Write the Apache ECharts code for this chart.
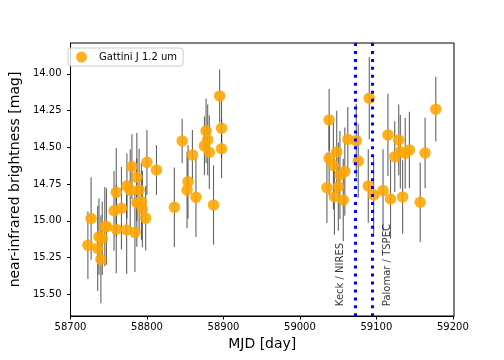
<!DOCTYPE html>
<html><head><meta charset="utf-8">
<script src="https://cdn.jsdelivr.net/npm/echarts@6/dist/echarts.min.js"></script>
<style>html,body{margin:0;padding:0;background:#fff}#c{width:504px;height:360px}</style>
</head><body><div id="c"></div>
<script>
const mjd = [58722.7,58726.9,58735.5,58737.2,58739.7,58741.5,58744.8,58747.0,58756.9,58759.8,58759.8,58766.6,58773.4,58773.7,58778.1,58780.3,58784.2,58786.7,58786.7,58789.7,58792.7,58794.0,58798.3,58799.9,58812.4,58835.8,58846.0,58853.7,58852.4,58859.4,58864.0,58877.3,58879.4,58875.1,58881.5,58887.0,58895.0,58897.5,58897.5,
 59035.3,59038.2,59038.2,59043.8,59045.1,59048.1,59050.2,59052.3,59056.7,59058.7,59062.6,59073.7,59076.3,59090.7,59089.4,59096.4,59108.7,59115.1,59118.5,59124.0,59129.2,59131.3,59134.3,59137.7,59143.2,59157.3,59163.7,59177.7];
const mag = [15.166,14.984,15.187,15.108,15.261,15.118,15.039,15.039,14.931,15.057,14.805,14.914,15.062,14.762,14.792,14.631,15.078,14.703,14.876,14.790,14.869,14.919,14.982,14.602,14.654,14.907,14.456,14.733,14.790,14.551,14.839,14.388,14.449,14.490,14.533,14.892,14.150,14.370,14.509,
 14.774,14.313,14.574,14.623,14.835,14.531,14.767,14.688,14.858,14.665,14.446,14.454,14.592,14.165,14.762,14.824,14.793,14.415,14.851,14.563,14.449,14.529,14.837,14.540,14.517,14.873,14.538,14.240];
const magErr = [0.23,0.28,0.29,0.26,0.30,0.25,0.27,0.26,0.27,0.30,0.30,0.28,0.30,0.22,0.28,0.22,0.27,0.30,0.30,0.28,0.26,0.26,0.22,0.22,0.17,0.27,0.15,0.25,0.26,0.17,0.27,0.22,0.24,0.20,0.25,0.27,0.18,0.20,0.20,
 0.24,0.21,0.25,0.30,0.26,0.28,0.30,0.30,0.28,0.30,0.22,0.25,0.25,0.28,0.25,0.27,0.28,0.28,0.27,0.24,0.24,0.25,0.25,0.24,0.26,0.27,0.24,0.22];
const xTicks = [58700, 58800, 58900, 59000, 59100, 59200];
const yTicks = [14.00, 14.25, 14.50, 14.75, 15.00, 15.25, 15.50];
const specMjd = [59073, 59095];
const specNames = ['Keck / NIRES', 'Palomar / TSPEC'];
const specLabelMjd = [59053, 59115];
const specLabelMag = 15.58;
const seriesName = 'Gattini J 1.2 um';

const pts = mjd.map((x, i) => [x, mag[i], magErr[i]]);
const FONT = 'DejaVu Sans';
const chart = echarts.init(document.getElementById('c'), null, {renderer: 'canvas'});
chart.setOption({
  animation: false,
  backgroundColor: '#fff',
  grid: {left: 63, right: 50, top: 43, bottom: 44, show: true, borderColor: '#000', borderWidth: 1, containLabel: false},
  legend: {
    data: [seriesName], left: 68, top: 48, orient: 'vertical',
    itemWidth: 11, itemHeight: 11, icon: 'circle',
    padding: [3.5, 6, 3.5, 8],
    borderColor: '#cccccc', borderWidth: 1, borderRadius: 3,
    backgroundColor: 'rgba(255,255,255,0.8)',
    textStyle: {fontFamily: FONT, fontSize: 10, color: '#000', padding: [0, 0, 0, 7]}
  },
  xAxis: {
    type: 'value', min: 58700, max: 59201.5,
    name: 'MJD [day]', nameLocation: 'middle', nameGap: 18,
    nameTextStyle: {fontFamily: FONT, fontSize: 14, color: '#000'},
    axisLine: {show: true, lineStyle: {color: '#000', width: 1}},
    axisTick: {show: true, inside: false, length: 3.5, customValues: xTicks, lineStyle: {color: '#000'}},
    axisLabel: {customValues: xTicks, fontFamily: FONT, fontSize: 10, color: '#000', margin: 6, formatter: v => String(Math.round(v))},
    splitLine: {show: false}
  },
  yAxis: {
    type: 'value', inverse: true, min: 13.79, max: 15.647,
    name: 'near-infrared brightness [mag]', nameLocation: 'middle', nameGap: 40, nameRotate: 90,
    nameTextStyle: {fontFamily: FONT, fontSize: 14, color: '#000'},
    axisLine: {show: true, lineStyle: {color: '#000', width: 1}},
    axisTick: {show: true, inside: false, length: 3.5, customValues: yTicks, lineStyle: {color: '#000'}},
    axisLabel: {customValues: yTicks, fontFamily: FONT, fontSize: 10, color: '#000', margin: 9, formatter: v => v.toFixed(2)},
    splitLine: {show: false}
  },
  series: [
    {
      type: 'custom', name: 'err', silent: true, z: 2,
      data: pts,
      renderItem: function (params, api) {
        const x = api.value(0), y = api.value(1), e = api.value(2);
        const p1 = api.coord([x, y - e]);
        const p2 = api.coord([x, y + e]);
        return {type: 'line', shape: {x1: p1[0], y1: p1[1], x2: p2[0], y2: p2[1]},
          style: {stroke: 'rgba(40,40,40,0.72)', lineWidth: 1.1}};
      }
    },
    {
      type: 'scatter', name: seriesName, z: 3,
      data: pts.map(p => [p[0], p[1]]),
      symbol: 'circle', symbolSize: 11.5,
      itemStyle: {color: '#FFA500', opacity: 0.88}
    },
    {
      type: 'scatter', name: 'spec', z: 4, silent: true,
      data: [],
      markLine: {
        silent: true, symbol: ['none', 'none'], animation: false,
        label: {show: false},
        lineStyle: {color: '#0000FF', width: 3, type: [3, 4.95], cap: 'butt'},
        data: specMjd.map(v => ({xAxis: v}))
      }
    },
    {
      type: 'scatter', name: 'speclabels', z: 5, silent: true,
      symbolSize: 0,
      data: specLabelMjd.map((v, i) => [v, specLabelMag, specNames[i]]),
      label: {
        show: true, position: [0, 0], rotate: 90, align: 'left', verticalAlign: 'middle',
        fontFamily: FONT, fontSize: 10, color: '#000',
        formatter: p => p.value[2]
      }
    }
  ]
});
</script>
</body></html>
